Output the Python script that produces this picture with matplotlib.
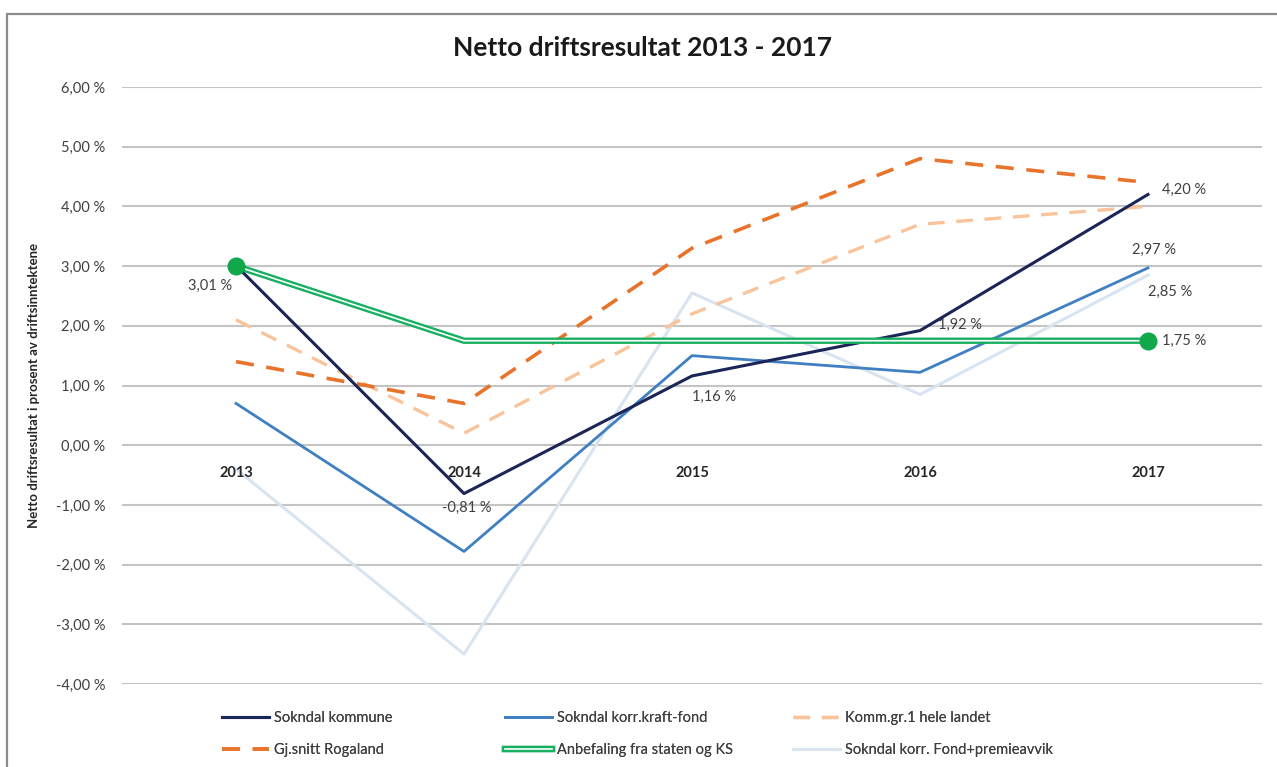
import matplotlib
matplotlib.use("Agg")
import matplotlib.pyplot as plt
import matplotlib.patheffects as pe
from matplotlib.patches import Rectangle

plt.rcParams["font.family"] = ["Lato", "DejaVu Sans"]

years = ["2013", "2014", "2015", "2016", "2017"]
sokndal = [3.01, -0.81, 1.16, 1.92, 4.20]
korr_kraft = [0.70, -1.78, 1.50, 1.22, 2.97]
komm_gr1 = [2.10, 0.20, 2.20, 3.70, 4.00]
rogaland = [1.40, 0.70, 3.30, 4.80, 4.40]
anbefaling = [3.00, 1.75, 1.75, 1.75, 1.75]
korr_fond = [-0.40, -3.50, 2.55, 0.85, 2.85]
yticks = [6, 5, 4, 3, 2, 1, 0, -1, -2, -3, -4]

W, H = 1277, 767
fig = plt.figure(figsize=(W / 100, H / 100), dpi=100)
fig.patches.append(Rectangle((7 / W, -0.2), 1.2, 1 - 14 / H + 0.2, transform=fig.transFigure,
                             fill=False, edgecolor="#8c8c8c", lw=1.6))
ax = fig.add_axes([122 / W, 1 - 684 / H, 1140 / W, (684 - 87) / H])
x = list(range(len(years)))

ax.plot(x, korr_fond, color="#d9e4f1", lw=2.2, label="Sokndal korr. Fond+premieavvik", zorder=2)
ax.plot(x, komm_gr1, color="#f9c49b", lw=2.4, dashes=(5, 3.5), label="Komm.gr.1 hele landet", zorder=3)
ax.plot(x, rogaland, color="#e8742c", lw=2.6, dashes=(5, 3.5), label="Gj.snitt Rogaland", zorder=3)
ax.plot(x, korr_kraft, color="#3f7fc2", lw=2.0, label="Sokndal korr.kraft-fond", zorder=4)
ax.plot(x, sokndal, color="#1c2557", lw=2.2, label="Sokndal kommune", zorder=5)
ax.plot(x, anbefaling, color="white", lw=1.2, label="Anbefaling fra staten og KS", zorder=6,
        path_effects=[pe.Stroke(linewidth=4.6, foreground="#16b060"), pe.Normal()])
ax.plot([x[0], x[-1]], [anbefaling[0], anbefaling[-1]], ls="none", marker="o", ms=12,
        color="#10a84a", zorder=7)

ax.set_xlim(-0.5, 4.5)
ax.set_ylim(-4, 6)
ax.set_yticks(yticks)
ax.set_yticklabels([f"{v:.2f} %".replace(".", ",") for v in yticks], fontsize=10.5, color="#404040")
ax.set_xticks([])
ax.tick_params(axis="y", length=0, pad=12)
ax.grid(axis="y", color="#c4c4c4", lw=1.5)
ax.set_axisbelow(True)
for s in ax.spines.values():
    s.set_visible(False)

for i, yr in enumerate(years):
    ax.annotate(yr, (i, 0), xytext=(0, -20), textcoords="offset points", ha="center",
                va="center", fontsize=10.5, fontweight="bold", color="#262626")

lab = dict(fontsize=10.5, color="#404040", textcoords="offset points", va="center")
fmt = lambda v: f"{v:.2f} %".replace(".", ",")
ax.annotate(fmt(sokndal[0]), (0, sokndal[0]), xytext=(-19, -15), ha="center", **lab)
ax.annotate(fmt(sokndal[1]), (1, sokndal[1]), xytext=(2, -10), ha="center", **lab)
ax.annotate(fmt(sokndal[2]), (2, sokndal[2]), xytext=(16, -15), ha="center", **lab)
ax.annotate(fmt(sokndal[3]), (3, sokndal[3]), xytext=(13, 4), ha="left", **lab)
ax.annotate(fmt(sokndal[4]), (4, sokndal[4]), xytext=(10, 3), ha="left", **lab)
ax.annotate(fmt(korr_kraft[4]), (4, korr_kraft[4]), xytext=(4, 13), ha="center", **lab)
ax.annotate(fmt(korr_fond[4]), (4, korr_fond[4]), xytext=(16, -12), ha="center", **lab)
ax.annotate(fmt(anbefaling[4]), (4, anbefaling[4]), xytext=(10, 0), ha="left", **lab)

ax.set_ylabel("Netto driftsresultat i prosent av driftsinntektene", fontsize=9.5,
              fontweight="bold", color="#262626")
ax.yaxis.set_label_coords(-82 / 1140, 0.5)

fig.text(0.503, 1 - 48 / H, "Netto driftsresultat 2013 - 2017", ha="center", va="center",
         fontsize=19, fontweight="bold", color="#1a1a1a")

# legend: three columns placed like the original
h, l = ax.get_legend_handles_labels()
hd = dict(zip(l, h))
cols = [(222, ["Sokndal kommune", "Gj.snitt Rogaland"]),
        (505, ["Sokndal korr.kraft-fond", "Anbefaling fra staten og KS"]),
        (793, ["Komm.gr.1 hele landet", "Sokndal korr. Fond+premieavvik"])]
for x0, names in cols:
    leg = fig.legend([hd[k] for k in names], names, loc="center left",
                     bbox_to_anchor=(x0 / W, 1 - 734 / H), borderaxespad=0, borderpad=0,
                     frameon=False, fontsize=10.5, handlelength=3.2, handletextpad=0.35,
                     labelspacing=1.2, labelcolor="#404040")
    fig.add_artist(leg)

fig.savefig("out.png", dpi=100, facecolor="white")
